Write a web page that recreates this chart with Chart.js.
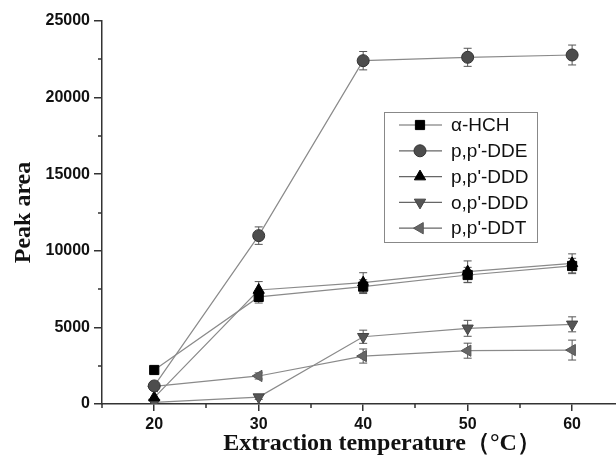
<!DOCTYPE html>
<html>
<head>
<meta charset="utf-8">
<script src="https://cdn.jsdelivr.net/npm/chart.js@4.4.0/dist/chart.umd.min.js"></script>
<style>
  html, body { margin: 0; padding: 0; background: #fff; }
  #wrap { width: 616px; height: 465px; }
</style>
</head>
<body>
<div id="wrap"><canvas id="myChart" width="616" height="465"></canvas></div>
<script>
// extraction temperature (°C)
var temps = [20, 30, 40, 50, 60];

// peak areas per compound
var hch   = [2220, 6990, 7660, 8420, 9010];
var dde   = [1180, 10990, 22410, 22630, 22780];
var ppddd = [420, 7440, 7920, 8640, 9180];
var opddd = [100, 450, 4390, 4940, 5200];
var ppddt = [1150, 1830, 3130, 3480, 3520];

// error bar half-heights
var hchErr   = [0, 400, 450, 500, 500];
var ddeErr   = [0, 570, 600, 590, 650];
var ppdddErr = [0, 550, 650, 700, 620];
var opdddErr = [0, 150, 430, 520, 490];
var ppddtErr = [0, 200, 460, 490, 650];

var labels = ['α-HCH', "p,p'-DDE", "p,p'-DDD", "o,p'-DDD", "p,p'-DDT"];
var xTicks = [20, 30, 40, 50, 60];
var xMinor = [15, 25, 35, 45, 55];
var yMinor = [2500, 7500, 12500, 17500, 22500];

function pts(arr) {
    return arr.map(function (v, i) { return {x: temps[i], y: v}; });
}

function ds(label, arr, err, style, rot, fill, edge, radius) {
    return {
        label: label,
        data: pts(arr),
        err: err,
        borderColor: '#8a8a8a',
        borderWidth: 1.2,
        pointStyle: style,
        rotation: rot,
        pointRadius: radius,
        pointBackgroundColor: fill,
        pointBorderColor: edge,
        pointBorderWidth: 1,
        tension: 0,
        fill: false
    };
}

var datasets = [
    ds(labels[0], hch, hchErr, 'rect', 0, '#000', '#000', 6.5),
    ds(labels[1], dde, ddeErr, 'circle', 0, '#4d4d4d', '#333', 6),
    ds(labels[2], ppddd, ppdddErr, 'triangle', 0, '#000', '#000', 6.5),
    ds(labels[3], opddd, opdddErr, 'triangle', 180, '#555', '#444', 6.5),
    ds(labels[4], ppddt, ppddtErr, 'triangle', 270, '#666', '#555', 6.5)
];

// let the x axis run to the canvas edge like the original plot
var stretchX = {
    id: 'stretchX',
    afterLayout: function (chart) {
        var xs = chart.scales.x;
        var w = chart.width;
        xs.right = w;
        xs.width = w - xs.left;
        chart.chartArea.right = w;
        chart.chartArea.width = w - chart.chartArea.left;
        xs.configure();
    }
};

var errorBars = {
    id: 'errorBars',
    beforeDatasetsDraw: function (chart) {
        var ctx = chart.ctx;
        var ys = chart.scales.y;
        ctx.save();
        ctx.strokeStyle = '#555';
        ctx.lineWidth = 1;
        chart.data.datasets.forEach(function (d, i) {
            var meta = chart.getDatasetMeta(i);
            d.err.forEach(function (e, j) {
                if (!e) return;
                var p = meta.data[j];
                var v = d.data[j].y;
                var top = ys.getPixelForValue(v + e);
                var bot = ys.getPixelForValue(v - e);
                ctx.beginPath();
                ctx.moveTo(p.x, top); ctx.lineTo(p.x, bot);
                ctx.moveTo(p.x - 4, top); ctx.lineTo(p.x + 4, top);
                ctx.moveTo(p.x - 4, bot); ctx.lineTo(p.x + 4, bot);
                ctx.stroke();
            });
        });
        ctx.restore();
    }
};

var extras = {
    id: 'extras',
    afterDraw: function (chart) {
        var ctx = chart.ctx;
        var xs = chart.scales.x, ys = chart.scales.y;
        var area = chart.chartArea;
        ctx.save();
        // minor ticks
        ctx.strokeStyle = '#333';
        ctx.lineWidth = 1.5;
        ctx.beginPath();
        xMinor.forEach(function (v) {
            var x = Math.round(xs.getPixelForValue(v));
            ctx.moveTo(x, area.bottom); ctx.lineTo(x, area.bottom + 4);
        });
        yMinor.forEach(function (v) {
            var y = Math.round(ys.getPixelForValue(v));
            ctx.moveTo(area.left, y); ctx.lineTo(area.left - 4, y);
        });
        ctx.stroke();

        // x axis title
        ctx.fillStyle = '#111';
        ctx.font = 'bold 24px "Liberation Serif", "Times New Roman", serif';
        ctx.textAlign = 'center';
        ctx.textBaseline = 'middle';
        ctx.fillText('Extraction temperature（°C）', 382, 444);

        // legend
        var bx = 384, by = 112, bw = 153, bh = 130;
        ctx.fillStyle = '#fff';
        ctx.fillRect(bx, by, bw, bh);
        ctx.strokeStyle = '#888';
        ctx.lineWidth = 1;
        ctx.strokeRect(bx + 0.5, by + 0.5, bw, bh);
        ctx.font = '19px "Liberation Sans", Arial, sans-serif';
        ctx.textAlign = 'left';
        chart.data.datasets.forEach(function (d, i) {
            var cy = 125 + i * 25.8;
            ctx.strokeStyle = '#666';
            ctx.lineWidth = 1.2;
            ctx.beginPath();
            ctx.moveTo(399, cy); ctx.lineTo(442, cy);
            ctx.stroke();
            ctx.fillStyle = d.pointBackgroundColor;
            ctx.strokeStyle = d.pointBorderColor;
            ctx.lineWidth = 1;
            Chart.helpers.drawPoint(ctx, {pointStyle: d.pointStyle, rotation: d.rotation, radius: d.pointRadius, borderWidth: 1}, 420, cy);
            ctx.fillStyle = '#111';
            ctx.fillText(d.label, 451, cy + 1);
        });
        ctx.restore();
    }
};

var ctx = document.getElementById('myChart').getContext('2d');
Chart.defaults.font.family = '"Liberation Sans", Arial, sans-serif';
Chart.defaults.color = '#111';

var myChart = new Chart(ctx, {
    type: 'line',
    data: {datasets: datasets},
    options: {
        responsive: false,
        animation: false,
        layout: {padding: {top: 21, right: 0, left: 0, bottom: 0}},
        plugins: {
            legend: {display: false},
            tooltip: {enabled: false}
        },
        scales: {
            x: {
                type: 'linear',
                min: 15,
                max: 64.2,
                afterBuildTicks: function (scale) {
                    scale.ticks = xTicks.map(function (v) { return {value: v}; });
                },
                afterFit: function (scale) { scale.height = 61; },
                border: {color: '#333', width: 1.5},
                grid: {drawOnChartArea: false, tickLength: 7, color: '#333', lineWidth: 1.5},
                ticks: {font: {size: 16, weight: 'bold'}, padding: 4, maxRotation: 0, autoSkip: false, color: '#111'}
            },
            y: {
                min: 0,
                max: 25000,
                ticks: {
                    stepSize: 5000,
                    font: {size: 16, weight: 'bold'},
                    padding: 4,
                    color: '#111',
                    callback: function (v) { return String(v); }
                },
                afterFit: function (scale) { scale.width = 102; },
                border: {color: '#333', width: 1.5},
                grid: {drawOnChartArea: false, tickLength: 8, color: '#333', lineWidth: 1.5},
                title: {
                    display: true,
                    text: 'Peak area',
                    font: {family: '"Liberation Serif", "Times New Roman", serif', size: 24, weight: 'bold'},
                    color: '#111',
                    padding: {top: 9, bottom: 0}
                }
            }
        }
    },
    plugins: [stretchX, errorBars, extras]
});
</script>
</body>
</html>
